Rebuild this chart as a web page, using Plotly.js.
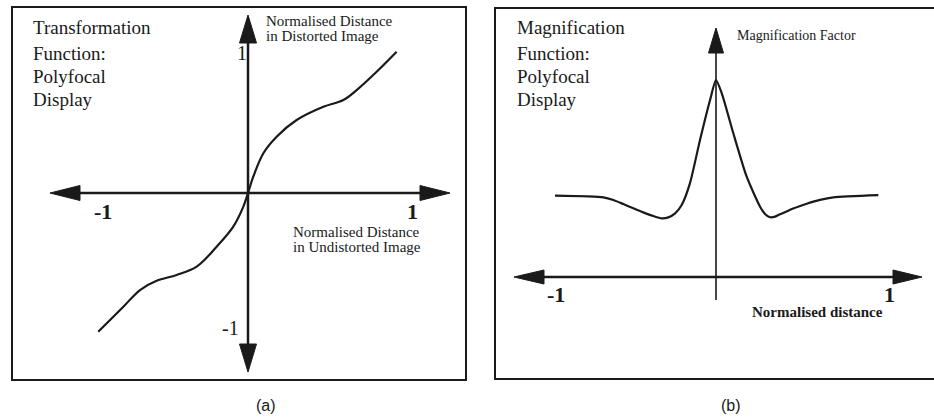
<!DOCTYPE html>
<html>
<head>
<meta charset="utf-8">
<script src="https://cdn.plot.ly/plotly-3.0.1.min.js"></script>
<style>html,body{margin:0;padding:0;background:#fff;}#chart{width:934px;height:420px;}</style>
</head>
<body>
<div id="chart"></div>
<script>
// ---- Data: panel (a) transformation function ----
const transformX = [-0.936,-0.779,-0.675,-0.571,-0.446,-0.321,-0.196,-0.092,-0.029,0,0.033,0.096,0.179,0.304,0.471,0.596,0.679,0.804,0.929];
const transformY = [-1.005,-0.824,-0.703,-0.636,-0.594,-0.534,-0.389,-0.244,-0.099,0,0.118,0.288,0.408,0.529,0.625,0.674,0.746,0.879,1.024];

// ---- Data: panel (b) magnification function ----
const magX = [-0.976,-0.683,-0.622,-0.562,-0.501,-0.441,-0.38,-0.329,-0.289,-0.248,-0.208,-0.158,-0.097,-0.036,0,0.035,0.105,0.186,0.267,0.297,0.327,0.358,0.388,0.43,0.468,0.510,0.550,0.630,0.711,0.984];
const magY = [1.004,0.984,0.951,0.901,0.848,0.798,0.753,0.724,0.736,0.786,0.889,1.156,1.691,2.185,2.43,2.268,1.774,1.238,0.868,0.778,0.737,0.745,0.775,0.812,0.845,0.877,0.905,0.952,0.984,1.012];

// ---- Text ----
const titleA = ["Transformation","Function:","Polyfocal","Display"];
const titleB = ["Magnification","Function:","Polyfocal","Display"];
const yLabelA = ["Normalised Distance","in Distorted Image"];
const xLabelA = ["Normalised Distance","in Undistorted Image"];
const yLabelB = "Magnification Factor";
const xLabelB = "Normalised distance";
const captions = ["(a)","(b)"];

const W = 934, H = 420;
const px = x => x / W;
const py = y => 1 - y / H;
const ink = "#1a1a1a";
const serif = "Liberation Serif";

// Axis geometry (pixels)
const A = {x0:12, x1:466, y0:7, y1:380, ox:248, oy:193, sx:160, sy:138};
const B = {x0:495, x1:934, y0:8, y1:378, ox:716, oy:277, sx:165, sy:81};

const traces = [
  {x: transformX, y: transformY, xaxis:'x', yaxis:'y', mode:'lines',
   line:{color:ink, width:2.2, shape:'spline', smoothing:1}, hoverinfo:'skip'},
  {x: magX, y: magY, xaxis:'x2', yaxis:'y2', mode:'lines',
   line:{color:ink, width:2.2, shape:'spline', smoothing:0.6}, hoverinfo:'skip'}
];

function line(x0,y0,x1,y1,w){
  return {type:'line', xref:'paper', yref:'paper', x0:px(x0), y0:py(y0), x1:px(x1), y1:py(y1),
          line:{color:ink, width:w}};
}
function tri(p){
  const d = 'M' + p.map(q => px(q[0]) + ',' + py(q[1])).join(' L') + ' Z';
  return {type:'path', xref:'paper', yref:'paper', path:d, fillcolor:ink, line:{color:ink, width:1}};
}
function rect(x0,y0,x1,y1){
  return {type:'rect', xref:'paper', yref:'paper', x0:px(x0), y0:py(y0), x1:px(x1), y1:py(y1),
          line:{color:ink, width:2}, fillcolor:'rgba(0,0,0,0)'};
}

const shapes = [
  rect(A.x0, A.y0, A.x1, A.y1),
  rect(B.x0, B.y0, 940, B.y1 + 1),
  // panel a axes
  line(70, A.oy, 430, A.oy, 2.5),
  line(A.ox, 35, A.ox, 352, 2.5),
  tri([[50,A.oy],[80,A.oy-7.5],[80,A.oy+7.5]]),
  tri([[450,A.oy],[420,A.oy-7.5],[420,A.oy+7.5]]),
  tri([[A.ox,15],[A.ox-8.5,43],[A.ox+8.5,43]]),
  tri([[A.ox,372],[A.ox-8.5,344],[A.ox+8.5,344]]),
  // panel b axes
  line(534, B.oy, 904, B.oy, 2.5),
  line(B.ox, 45, B.ox, 300, 1.6),
  tri([[514,B.oy],[544,B.oy-7],[544,B.oy+7]]),
  tri([[922,B.oy],[893,B.oy-7],[893,B.oy+7]]),
  tri([[B.ox,28],[B.ox-7.5,53],[B.ox+7.5,53]])
];

const annotations = [];
function txt(t, x, y, size, opts){
  annotations.push(Object.assign({text:t, xref:'paper', yref:'paper', x:px(x), y:py(y),
    showarrow:false, xanchor:'left', yanchor:'middle',
    font:{family:serif, size:size, color:ink}}, opts||{}));
}
const titleYs = [28, 53, 76, 99];
titleA.forEach((t,i) => txt(t, 31, titleYs[i], 19));
titleB.forEach((t,i) => txt(t, 515, titleYs[i], 19));
yLabelA.forEach((t,i) => txt(t, 264, [21,36][i], 15));
xLabelA.forEach((t,i) => txt(t, 291, [232,247][i], 15));
txt(yLabelB, 735, 35, 14);
txt('<b>' + xLabelB + '</b>', 817, 312, 15, {xanchor:'center'});
// axis numbers
txt('<b>-1</b>', 103, 211, 22, {xanchor:'center'});
txt('<b>1</b>', 412, 211, 22, {xanchor:'center'});
txt('1', 242, 53, 20, {xanchor:'center'});
txt('-1', 230, 328, 20, {xanchor:'center'});
txt('<b>-1</b>', 556, 294, 22, {xanchor:'center'});
txt('<b>1</b>', 889, 294, 22, {xanchor:'center'});
// captions
txt(captions[0], 266, 405, 16, {xanchor:'center', font:{family:'Liberation Sans', size:16, color:ink}});
txt(captions[1], 731, 405, 16, {xanchor:'center', font:{family:'Liberation Sans', size:16, color:ink}});

const hidden = {visible:false, showgrid:false, zeroline:false, fixedrange:true};
const layout = {
  width:W, height:H, margin:{l:0,r:0,t:0,b:0},
  paper_bgcolor:'#fff', plot_bgcolor:'rgba(0,0,0,0)', showlegend:false,
  xaxis: Object.assign({domain:[px(A.x0), px(A.x1)], range:[(A.x0-A.ox)/A.sx, (A.x1-A.ox)/A.sx]}, hidden),
  yaxis: Object.assign({domain:[py(A.y1), py(A.y0)], range:[(A.oy-A.y1)/A.sy, (A.oy-A.y0)/A.sy]}, hidden),
  xaxis2: Object.assign({domain:[px(B.x0), 1], range:[(B.x0-B.ox)/B.sx, (B.x1-B.ox)/B.sx], anchor:'y2'}, hidden),
  yaxis2: Object.assign({domain:[py(B.y1), py(B.y0)], range:[(B.oy-B.y1)/B.sy, (B.oy-B.y0)/B.sy], anchor:'x2'}, hidden),
  shapes: shapes,
  annotations: annotations
};
Plotly.newPlot('chart', traces, layout, {staticPlot:true, displayModeBar:false});
</script>
</body>
</html>
